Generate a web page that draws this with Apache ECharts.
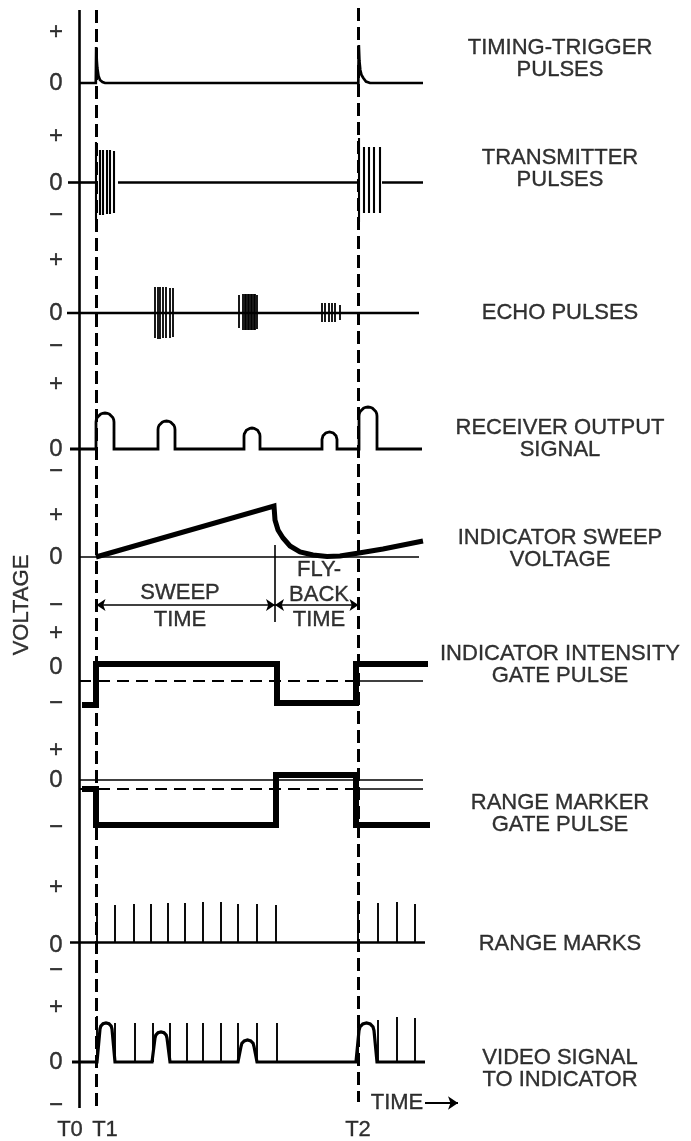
<!DOCTYPE html>
<html>
<head>
<meta charset="utf-8">
<script src="https://cdn.jsdelivr.net/npm/echarts@6/dist/echarts.min.js"></script>
<style>html,body{margin:0;padding:0;background:#fff}#c{width:691px;height:1141px}</style>
</head>
<body>
<div id="c"></div>
<script>
// ===================== DATA =====================
// time units: T0 = 0 ; voltages are relative to each trace's zero line (positive = up)
const markerTimes  = [0, 17.5, 279.5];
const markerLabels = ['T0', 'T1', 'T2'];
const signLabels   = ['+', '0', '−'];
const traceLabels  = [
  'TIMING-TRIGGER\nPULSES', 'TRANSMITTER\nPULSES', 'ECHO PULSES',
  'RECEIVER OUTPUT\nSIGNAL', 'INDICATOR SWEEP\nVOLTAGE', 'INDICATOR INTENSITY\nGATE PULSE',
  'RANGE MARKER\nGATE PULSE', 'RANGE MARKS', 'VIDEO SIGNAL\nTO INDICATOR'
];
const axisTitle  = 'VOLTAGE';
const timeTitle  = 'TIME';
const sweepNotes = ['SWEEP\nTIME', 'FLY-\nBACK\nTIME'];

// 1 timing-trigger pulses [t, v]
const triggerWave = [[0,0],[16.8,0],[17.2,36],[17.8,22],[18.3,15],[19.5,7],[21,3],[23.5,1],[26,0],
  [279.3,0],[279.8,38],[280.4,22],[281.3,13],[282.5,8],[284.3,5],[287,1.5],[291,0],[344,0]];

// 2 transmitter pulses
const txBaseline = [[-11,16],[39,279],[303,344]];          // [from, to]
const txBursts = [[17,40,38],[21,32,33],[24,32,33],[27.5,32,32],[31,32,32],[35,31,31],
  [280,44,40],[285,35,31],[290,35,31],[294.5,35,31],[301,35,31]];   // [t, +peak, -peak]

// 3 echo pulses
const echoBaseline = [-12, 340];
const echoBursts = [[76,26,25],[78.3,26,26],[81,26,26],[83.7,26,25],[87,26,25],[90.3,25,25],[93.3,25,24],
  [160,18,15],[164,19,17],[165.5,19,17],[167,19,17],[168.5,19,17],[170,19,17],[171.5,19,17],
  [173,19,17],[174.5,19,17],[176,19,17],[177.5,18,16],
  [242.7,10,9],[246,10,9],[249.3,10,9],[252.7,10,9],[256,10,9],[260.3,8,7]];

// 4 receiver output signal  [start, end, height]
const receiverBaseline = [-9, 343];
const receiverPulses = [[17,35,36],[79,96,28],[165,181,21],[243,258,17],[280,298,42]];

// 5 indicator sweep voltage
const sweepZero = [0, 340];
const sweepWave = [[17,0],[195,51],[196,37],[199,27],[204,19],[211,11],[221,5],[234,2],[248,0.5],
  [261,1],[280,4],[304,8],[344,16]];
const sweepSplit = 196;     // end of sweep / start of fly-back
const sweepArrowV = -48;

// 6 indicator intensity gate pulse
const intensityWave = [[3,-38],[17,-38],[17,3],[198,3],[198,-36],[277,-36],[277,3],[349,3]];
const intensityRef = -14;

// 7 range marker gate pulse
const gateWave = [[3,-9],[17,-9],[17,-45],[197,-45],[197,5],[277,5],[277,-45],[351,-45]];
const gateRef = -9;

// 8 range marks
const marksBaseline = [-9, 346];
const rangeMarkTimes   = [18,36,55,72,89,106,124,142,159,178,197,279,299,318,336];
const rangeMarkHeights = [37,37,38,38,39,39,40,40,38,38,37,37,39,40,38];

// 9 video signal to indicator
const videoBaseline = [-7, 346];
const videoPulses = [[18,36,39],[73,91,30],[159,178,22],[277,298,39]];
const videoMarkTimes   = [18,36,56,74,91,108,124,142,159,178,198,279,299,318,336];
const videoMarkHeights = [46,39,39,39,39,39,39,39,39,39,39,47,42,45,44];

// ===================== LAYOUT =====================
const X0 = 79;                           // pixel of T0 axis
const zeroY = [83,182,313,449,557,667,780,942,1062];
const signY = [[32,83,null],[136,183,215],[260,313,346],[384,449,471],[515,557,605],
               [633,667,703],[750,780,827],[887,945,970],[1007,1062,1105]];
const signT = -23;
const labelT = 481, labelY = [59,169,313,439,549,665,814,944,1069];
const FONT = '"Liberation Sans", Arial, Helvetica, sans-serif';

// ===================== BUILD =====================
const y = (p, v) => zeroY[p] - v;
const wave = (p, pts) => pts.map(([t, v]) => [t, y(p, v)]);
const seg = (p, t1, v1, t2, v2) => ({coords: [[t1, y(p, v1)], [t2, y(p, v2)]]});

function arch(ts, te, h, slant) {
  const r = (te - ts - 2 * slant) / 2, cx = ts + slant + r, pts = [[ts, 0], [ts + slant, h - r]];
  for (let k = 1; k < 12; k++) { const a = Math.PI - k * Math.PI / 12; pts.push([cx + r * Math.cos(a), h - r + r * Math.sin(a)]); }
  pts.push([te - slant, h - r], [te, 0]);
  return pts;
}
function pulseTrain(base, pulses, slant) {
  let pts = [[base[0], 0]];
  pulses.forEach(([s, e, h]) => { pts = pts.concat(arch(s, e, h, slant)); });
  pts.push([base[1], 0]);
  return pts;
}

const black = '#000';
const lineS = (data, width, extra) => Object.assign({type: 'line', data, showSymbol: false, symbol: 'none',
  silent: true, animation: false, lineStyle: {color: black, width, cap: 'butt', join: 'miter'}}, extra || {});
const linesS = (data, width, extra) => Object.assign({type: 'lines', coordinateSystem: 'cartesian2d', data,
  silent: true, animation: false, lineStyle: {color: black, width, opacity: 1, cap: 'butt'}}, extra || {});

const series = [];
// main axis & T1/T2 markers
series.push(linesS([{coords: [[markerTimes[0], 10], [markerTimes[0], 1108]]}], 2.6));
series.push(linesS([{coords: [[markerTimes[1], 10], [markerTimes[1], 1107]]},
                    {coords: [[markerTimes[2], 8], [markerTimes[2], 1102]]}], 3,
                   {lineStyle: {color: black, width: 3, type: [13, 6], opacity: 1}}));
// 1 trigger
series.push(lineS(wave(0, triggerWave), 2.7));
// 2 transmitter
series.push(linesS(txBaseline.map(([a, b]) => seg(1, a, 0, b, 0)), 2.6));
series.push(linesS(txBursts.map(([t, u, d]) => seg(1, t, u, t, -d)), 2.1));
// 3 echo
series.push(linesS([seg(2, echoBaseline[0], 0, echoBaseline[1], 0)], 2.3));
series.push(linesS(echoBursts.map(([t, u, d]) => seg(2, t, u, t, -d)), 1.8));
// 4 receiver
series.push(lineS(wave(3, pulseTrain(receiverBaseline, receiverPulses, 0)), 2.8));
// 5 sweep
series.push(linesS([seg(4, sweepZero[0], 0, sweepZero[1], 0)], 1.7));
series.push(lineS(wave(4, sweepWave), 5));
series.push(linesS([seg(4, sweepSplit, 12, sweepSplit, -65)], 1.6));
series.push(linesS([seg(4, markerTimes[1], sweepArrowV, sweepSplit, sweepArrowV),
                    seg(4, sweepSplit, sweepArrowV, markerTimes[2], sweepArrowV)], 1.6,
                   {symbol: ['arrow', 'arrow'], symbolSize: 9}));
// 6 intensity gate
series.push(linesS([seg(5, 0, intensityRef, 277, intensityRef)], 2,
                   {lineStyle: {color: black, width: 2.2, type: [12, 7], opacity: 1}}));
series.push(linesS([seg(5, 277, intensityRef, 344, intensityRef)], 1.6));
series.push(lineS(wave(5, intensityWave), 6));
// 7 range marker gate
series.push(linesS([seg(6, 0, 0, 344, 0)], 1.7));
series.push(linesS([seg(6, 0, gateRef, 277, gateRef)], 2,
                   {lineStyle: {color: black, width: 2.2, type: [12, 7], opacity: 1}}));
series.push(linesS([seg(6, 277, gateRef, 344, gateRef)], 1.6));
series.push(lineS(wave(6, gateWave), 6));
// 8 range marks
series.push(linesS([seg(7, marksBaseline[0], 0, marksBaseline[1], 0)], 2.6));
series.push(linesS(rangeMarkTimes.map((t, i) => seg(7, t, 0, t, rangeMarkHeights[i])), 1.9));
// 9 video
series.push(lineS(wave(8, pulseTrain(videoBaseline, videoPulses, 3)), 3.2));
series.push(linesS(videoMarkTimes.map((t, i) => seg(8, t, 0, t, videoMarkHeights[i])), 1.9));
// time arrow
series.push(linesS([{coords: [[346, 1103], [379, 1103]]}], 2.2, {symbol: ['none', 'arrow'], symbolSize: 10}));

// texts
const texts = [];
const txt = (t, yy, s, size, extra) => texts.push(Object.assign({value: [t, yy], name: s,
  label: Object.assign({fontSize: size}, extra || {})}));
traceLabels.forEach((s, i) => txt(labelT, labelY[i], s, 22, {lineHeight: 22}));
signY.forEach(row => row.forEach((yy, k) => { if (yy !== null) txt(signT, yy, signLabels[k], 24); }));
txt(-57, 605, axisTitle, 22, {rotate: 90});
txt(101, 606, sweepNotes[0], 22, {lineHeight: 27});
txt(240, 595, sweepNotes[1], 22, {lineHeight: 25});
txt(318, 1103, timeTitle, 22);
[[-9, 1130], [26, 1130], [279, 1130]].forEach(([t, yy], i) => txt(t, yy, markerLabels[i], 22));

series.push({type: 'scatter', data: texts, symbolSize: 1, silent: true, animation: false,
  itemStyle: {color: 'rgba(0,0,0,0)'},
  label: {show: true, position: 'inside', formatter: '{b}', color: '#000', fontFamily: FONT,
          align: 'center', verticalAlign: 'middle', textBorderColor: '#000', textBorderWidth: 0.35}});

const chart = echarts.init(document.getElementById('c'));
chart.setOption({
  animation: false,
  backgroundColor: '#fff',
  grid: {left: 0, right: 0, top: 0, bottom: 0},
  xAxis: {type: 'value', min: -X0, max: 691 - X0, show: false},
  yAxis: {type: 'value', min: 0, max: 1141, inverse: true, show: false},
  series
});
</script>
</body>
</html>
